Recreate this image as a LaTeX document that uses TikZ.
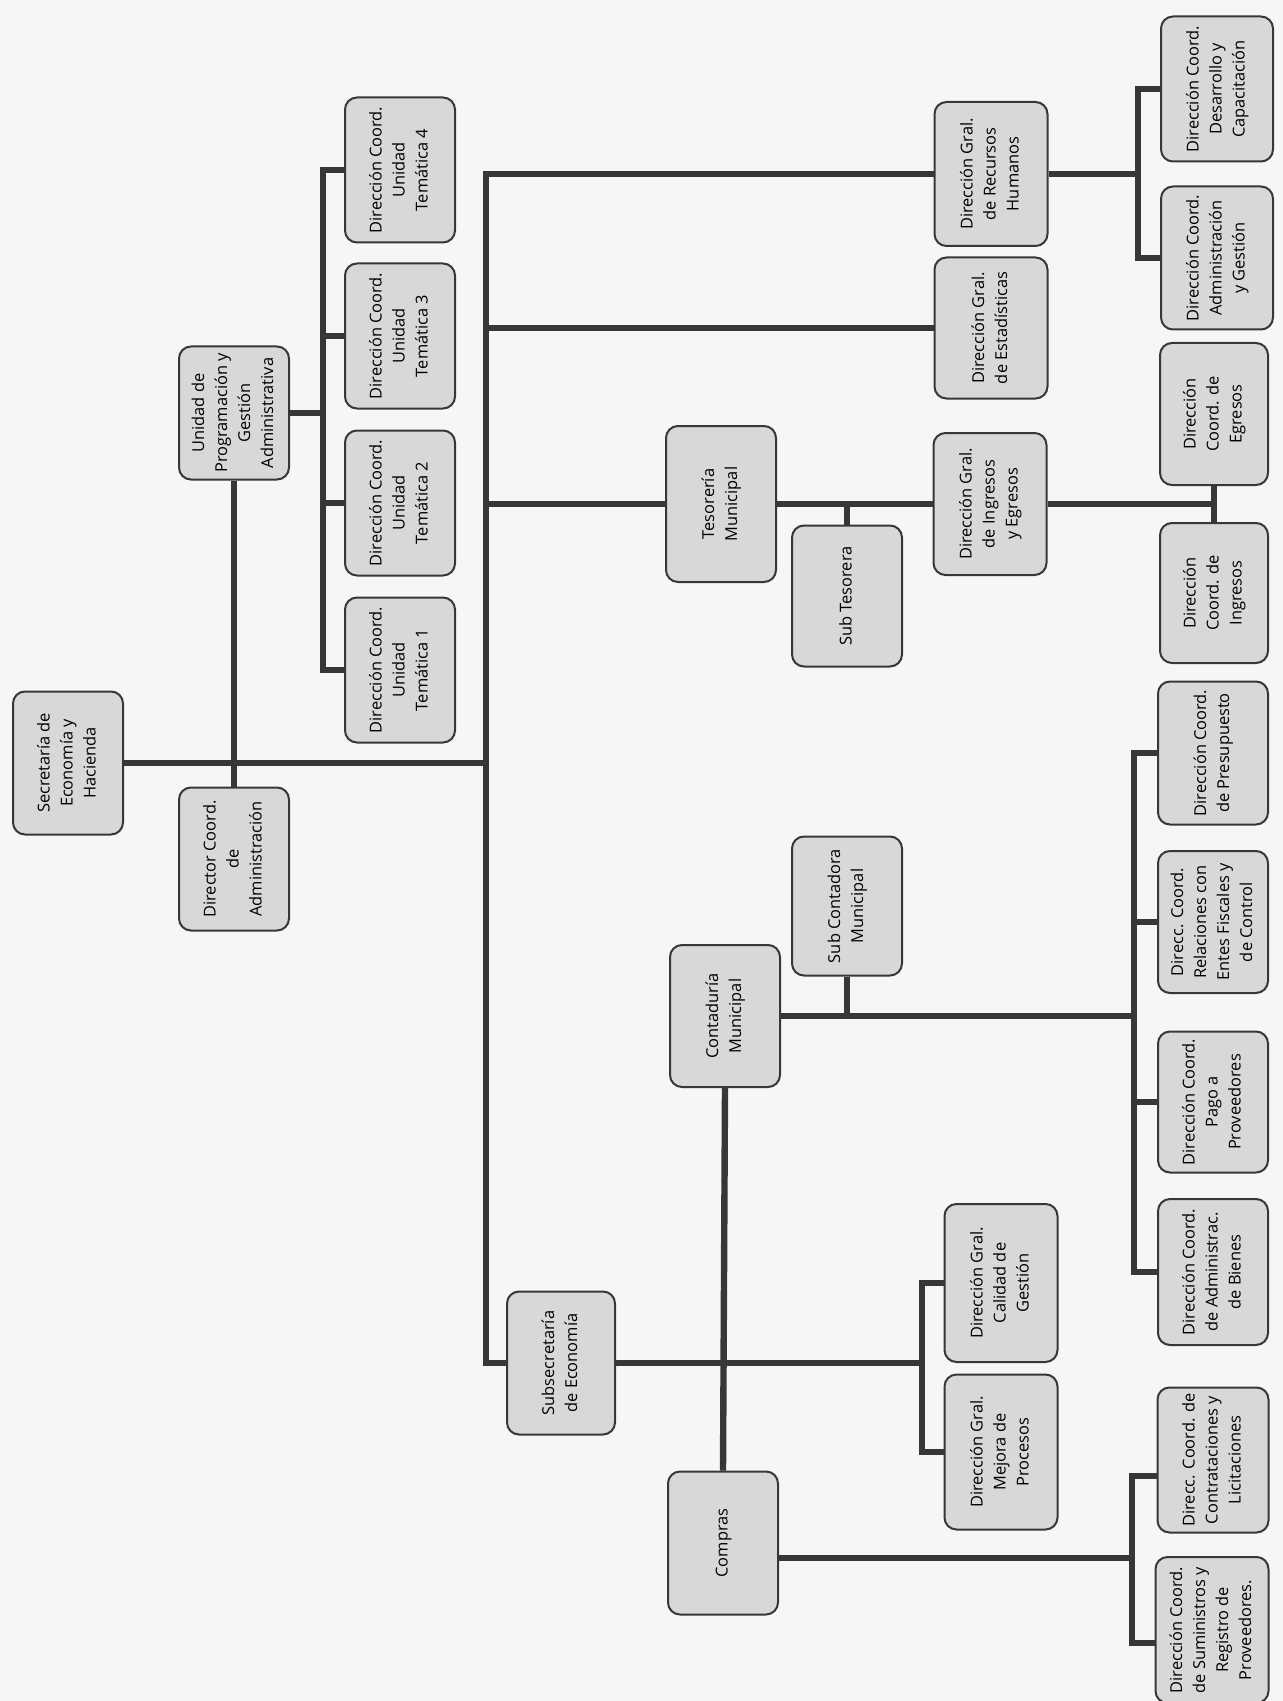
\documentclass[tikz,border=0pt]{standalone}
\usepackage{fontspec}
\setmainfont{Open Sans}
\usepackage{graphicx}

\definecolor{boxgray}{RGB}{216,216,216}
\definecolor{paper}{RGB}{246,246,246}
\definecolor{ink}{RGB}{55,55,55}

\newcommand{\vtext}[1]{\rotatebox{90}{\begin{tabular}{@{}c@{}}#1\end{tabular}}}

\tikzset{
  box/.style={draw=ink, line width=1pt, fill=boxgray, rounded corners=6pt,
    minimum width=55pt, minimum height=71.5pt, inner sep=0pt,
    font=\fontsize{8.2}{11.5}\selectfont},
  link/.style={draw=ink, line width=3.2pt}
}

\begin{document}
\begin{tikzpicture}[x=0.5pt, y=-0.5pt]

    % --- Page ---
    \clip (0,0) rectangle (1283,1701);
    \fill[paper] (0,0) rectangle (1283,1701);

    % --- Left column ---
    \node[box] (sec) at (68,763) {\vtext{Secretaría de\\Economía y\\Hacienda}};
    \node[box] (dir) at (234,859) {\vtext{Director Coord.\\de\\Administración}};
    \node[box, minimum height=66.5pt] (uni) at (234,413) {\vtext{Unidad de\\Programación y\\Gestión\\Administrativa}};

    % Unidades temáticas
    \foreach \n/\y in {4/170, 3/336, 2/503, 1/670} {
        \node[box, minimum height=72.5pt] (t\n) at (400,\y) {\vtext{Dirección Coord.\\Unidad\\Temática \n}};
    }

    % --- Upper right branch ---
    \node[box, minimum width=56.5pt, minimum height=72pt] (rrhh) at (991,174) {\vtext{Dirección Gral.\\de Recursos\\Humanos}};
    \node[box, minimum width=56.5pt, minimum height=70.5pt] (est) at (991,328) {\vtext{Dirección Gral.\\de Estadísticas}};
    \node[box, minimum width=56pt, minimum height=72.5pt] (des) at (1217,89) {\vtext{Dirección Coord.\\Desarrollo y\\Capacitación}};
    \node[box, minimum width=56pt] (adm) at (1217,258) {\vtext{Dirección Coord.\\Administración\\y Gestión}};

    \node[box, minimum height=78pt] (tes) at (721,504) {\vtext{Tesorería\\Municipal}};
    \node[box, minimum height=70.5pt] (subt) at (847,596) {\vtext{Sub Tesorera}};
    \node[box, minimum width=56.5pt, minimum height=71pt] (ige) at (990,504) {\vtext{Dirección Gral.\\de Ingresos\\y Egresos}};
    \node[box, minimum width=54pt, minimum height=71pt] (egr) at (1214,414) {\vtext{Dirección\\Coord. de\\Egresos}};
    \node[box, minimum width=54pt, minimum height=70pt] (ing) at (1214,593) {\vtext{Dirección\\Coord. de\\Ingresos}};

    % --- Lower right branch ---
    \node[box] (pre) at (1213,753) {\vtext{Dirección Coord.\\de Presupuesto}};
    \node[box, minimum height=69.5pt] (subc) at (847,906) {\vtext{Sub Contadora\\Municipal}};
    \node[box, minimum height=71pt] (con) at (725,1016) {\vtext{Contaduría\\Municipal}};
    \node[box, minimum height=71pt] (rel) at (1213,922) {\vtext{Direcc. Coord.\\Relaciones con\\Entes Fiscales y\\de Control}};
    \node[box, minimum height=70.5pt] (pag) at (1213,1102) {\vtext{Dirección Coord.\\Pago a\\Proveedores}};
    \node[box, minimum height=73pt] (bie) at (1213,1272) {\vtext{Dirección Coord.\\de Administrac.\\de Bienes}};

    \node[box, minimum width=56.5pt, minimum height=79pt] (cal) at (1001,1283) {\vtext{Dirección Gral.\\Calidad de\\Gestión}};
    \node[box, minimum width=56.5pt, minimum height=77.5pt] (mej) at (1001,1452) {\vtext{Dirección Gral.\\Mejora de\\Procesos}};
    \node[box, minimum width=54pt] (subs) at (561,1363) {\vtext{Subsecretaría\\de Economía}};
    \node[box] (com) at (723,1543) {\vtext{Compras}};
    \node[box, minimum width=55.5pt, minimum height=72.5pt] (ctr) at (1213,1460) {\vtext{Direcc. Coord. de\\Contrataciones y\\Licitaciones}};
    \node[box, minimum width=56.5pt, minimum height=73pt] (sum) at (1212,1630) {\vtext{Dirección Coord.\\de Suministros y\\Registro de\\Proveedores.}};

    % --- Bus lines ---
    \coordinate (spine) at (486,0);
    \coordinate (ubus) at (323,0);
    \coordinate (rbus) at (1138,0);
    \coordinate (ibus) at (1215,0);
    \coordinate (cbus) at (1134,0);
    \coordinate (gbus) at (922,0);
    \coordinate (kbus) at (1132,0);

    % Main spine
    \draw[link] (rrhh.west) -| (spine |- subs.west) -- (subs.west);
    \draw[link] (sec.east) -- (sec.east -| spine);
    \foreach \b in {est, tes} {
        \draw[link] (\b.west) -- (\b.west -| spine);
    }

    % Unidad de Programación
    \draw[link] (uni.south) -- (dir.north);
    \draw[link] (uni.east) -- (uni.east -| ubus);
    \draw[link] (t4.west) -| (ubus |- t1.west) -- (t1.west);
    \foreach \n in {2,3} {
        \draw[link] (t\n.west) -- (t\n.west -| ubus);
    }

    % Recursos humanos
    \draw[link] (rrhh.east) -- (rrhh.east -| rbus);
    \draw[link] (des.west) -| (rbus |- adm.west) -- (adm.west);

    % Tesorería
    \draw[link] (tes.east) -- (ige.west);
    \draw[link] (subt.north) -- (subt.north |- tes.east);
    \draw[link] (ige.east) -- (ige.east -| ibus);
    \draw[link] (egr.south) -- (ing.north);

    % Contaduría
    \draw[link] (con.south) -- (com.north);
    \draw[link] (subc.south) -- (subc.south |- con.east);
    \draw[link] (con.east) -- (con.east -| cbus);
    \draw[link] (pre.west) -| (cbus |- bie.west) -- (bie.west);
    \foreach \b in {rel, pag} {
        \draw[link] (\b.west) -- (\b.west -| cbus);
    }

    % Subsecretaría
    \draw[link] (subs.east) -- (subs.east -| gbus);
    \draw[link] (cal.west) -| (gbus |- mej.west) -- (mej.west);

    % Compras
    \draw[link] ([yshift=-7.5pt]com.east) -- ([yshift=-7.5pt]com.east -| kbus);
    \draw[link] ([yshift=-8pt]ctr.west) -| ([yshift=-6.5pt]kbus |- sum.west) -- ([yshift=-6.5pt]sum.west);

\end{tikzpicture}
\end{document}
